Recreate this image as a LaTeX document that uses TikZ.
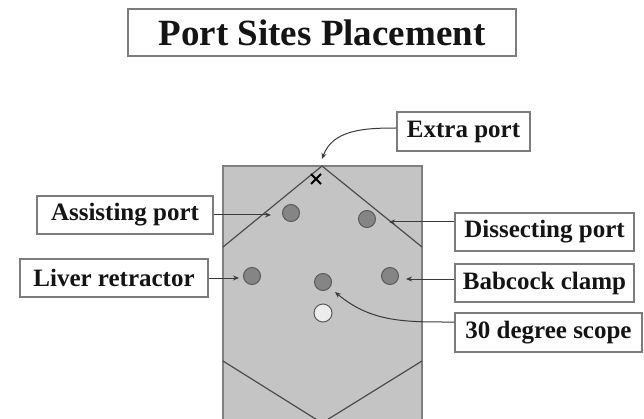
\documentclass[tikz,border=0pt]{standalone}
\usepackage{fontspec}
\setmainfont{Liberation Serif}
\usetikzlibrary{arrows.meta}
\definecolor{boxline}{HTML}{7C7C7C}
\definecolor{abdfill}{HTML}{C4C4C4}
\definecolor{abdline}{HTML}{808080}
\definecolor{vline}{HTML}{4C4C4C}
\definecolor{portfill}{HTML}{858585}
\definecolor{portline}{HTML}{5A5A5A}
\definecolor{scopefill}{HTML}{ECECEC}
\definecolor{arrowc}{HTML}{3A3A3A}
\begin{document}
\begin{tikzpicture}[x=1pt,y=-1pt,
  lbl/.style={draw=boxline, line width=1.3pt, fill=white, inner sep=0pt,
    minimum height=38pt, font=\fontsize{25}{30}\selectfont\bfseries, text=black!92},
  portc/.style={circle, draw=portline, fill=portfill, line width=1pt, minimum size=17pt, inner sep=0pt},
  scopec/.style={circle, draw=portline, fill=scopefill, line width=1pt, minimum size=18pt, inner sep=0pt},
  conn/.style={draw=arrowc, line width=1pt, -{Stealth[length=6pt,width=5pt]}},
  vl/.style={draw=vline, line width=1.2pt}]
\useasboundingbox (0,0) rectangle (644,419);
\begin{scope}
\clip (0,0) rectangle (644,419);
\draw[fill=abdfill, draw=abdline, line width=1.2pt] (223,166) rectangle (422,440);
\draw[vl] (223,247) -- (322,166) -- (422,247);
\draw[vl] (223,361) -- (322,423) -- (422,361);
\end{scope}
% title
\node[lbl, minimum width=388pt, minimum height=47pt, font=\fontsize{37}{44}\selectfont\bfseries] (title) at (322,32.5) {Port Sites Placement};
% x mark
\draw[black, line width=1.8pt] (311,174) -- (321,184) (321,174) -- (311,184);
\coordinate (peak) at (322,159);
% ports
\node[portc] (pA) at (291,213) {};
\node[portc] (pD) at (367,219) {};
\node[portc] (pL) at (252,276) {};
\node[portc] (pM) at (323,282) {};
\node[portc] (pB) at (390,276) {};
\node[scopec] (pS) at (323,313) {};
% labels
\node[lbl, minimum width=133pt, minimum height=39pt] (extra) at (463.5,131.5) {Extra port};
\node[lbl, minimum width=176pt] (assist) at (125,215) {Assisting port};
\node[lbl, minimum width=188pt] (liver) at (114,278) {Liver retractor};
\node[lbl, minimum width=179pt] (dissect) at (544.5,232) {Dissecting port};
\node[lbl, minimum width=179pt] (babcock) at (544.5,283) {Babcock clamp};
\node[lbl, minimum width=187pt, minimum height=39pt] (scope) at (548.5,332.5) {30 degree scope};
% arrow targets
\coordinate (tA) at (271,215);
\coordinate (tL) at (239,278);
\coordinate (tD) at (389,222);
\coordinate (tB) at (406,279);
\coordinate (tS) at (335,292);
% connectors
\draw[conn] ([yshift=3.5pt]extra.west) to[out=180,in=70] (peak);
\draw[conn] (assist.east) -- (tA);
\draw[conn] (liver.east) -- (tL);
\draw[conn] ([yshift=10pt]dissect.west) -- (tD);
\draw[conn] ([yshift=4pt]babcock.west) -- (tB);
\draw[conn] ([yshift=10.5pt]scope.west) to[out=180,in=-40] (tS);
\end{tikzpicture}
\end{document}
